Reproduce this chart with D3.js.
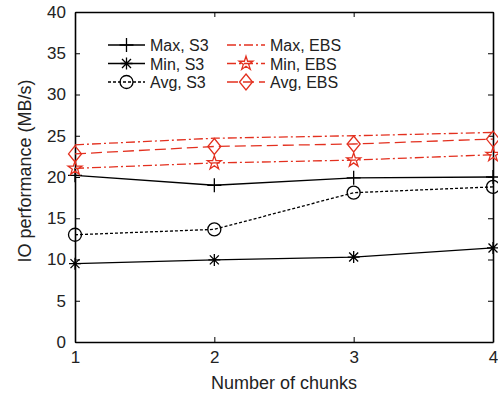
<!DOCTYPE html>
<html>
<head>
<meta charset="utf-8">
<script src="https://cdn.jsdelivr.net/npm/d3@7"></script>
<style>
  body { margin: 0; background: #fff; }
  svg { font-family: "Liberation Sans", Arial, Helvetica, sans-serif; }
</style>
</head>
<body>
<div id="chart"></div>
<script>
// chunk counts on the x axis
const chunks = [1, 2, 3, 4];
const yTicks = [0, 5, 10, 15, 20, 25, 30, 35, 40];

// IO performance (MB/s)
const maxS3 = [20.2, 19.0, 19.9, 20.0];
const minS3 = [9.5, 9.95, 10.3, 11.4];
const avgS3 = [13.0, 13.65, 18.1, 18.8];
const maxEBS = [23.9, 24.7, 25.0, 25.4];
const minEBS = [21.05, 21.7, 22.05, 22.7];
const avgEBS = [22.8, 23.7, 24.0, 24.6];

const red = "#e3301f";
const series = [
  { name: "Max, S3", values: maxS3, color: "#000", dash: null, marker: "plus" },
  { name: "Min, S3", values: minS3, color: "#000", dash: null, marker: "asterisk" },
  { name: "Avg, S3", values: avgS3, color: "#000", dash: "3,2", marker: "circle" },
  { name: "Max, EBS", values: maxEBS, color: red, dash: "9,3,2,3", marker: null },
  { name: "Min, EBS", values: minEBS, color: red, dash: "9,3,2,3", marker: "star" },
  { name: "Avg, EBS", values: avgEBS, color: red, dash: "11,5", marker: "diamond" }
];

const width = 498, height = 396;
const margin = { top: 12, right: 5, bottom: 54, left: 75 };
const innerW = width - margin.left - margin.right;
const innerH = height - margin.top - margin.bottom;

const svg = d3.select("#chart").append("svg")
  .attr("width", width).attr("height", height);
const g = svg.append("g").attr("transform", `translate(${margin.left},${margin.top})`);

const x = d3.scaleLinear().domain([1, 4]).range([0, innerW]);
const y = d3.scaleLinear().domain([0, 40]).range([innerH, 0]);

// axes with inward ticks on all four sides
const tickLen = 5;
const styleAxis = sel => {
  sel.select(".domain").attr("stroke", "#000").attr("stroke-width", 1.6).attr("fill", "none");
  sel.selectAll(".tick line").attr("stroke", "#000").attr("stroke-width", 1);
  sel.selectAll("text").attr("font-size", 17).attr("fill", "#222");
};

g.append("g").attr("transform", `translate(0,${innerH})`)
  .call(d3.axisBottom(x).tickValues(chunks).tickFormat(d3.format("d")).tickSizeInner(-tickLen).tickSizeOuter(0).tickPadding(9))
  .call(styleAxis);
g.append("g")
  .call(d3.axisTop(x).tickValues(chunks).tickFormat("").tickSizeInner(-tickLen).tickSizeOuter(0))
  .call(styleAxis);
g.append("g")
  .call(d3.axisLeft(y).tickValues(yTicks).tickSizeInner(-tickLen).tickSizeOuter(0).tickPadding(9))
  .call(styleAxis);
g.append("g").attr("transform", `translate(${innerW},0)`)
  .call(d3.axisRight(y).tickValues(yTicks).tickFormat("").tickSizeInner(-tickLen).tickSizeOuter(0))
  .call(styleAxis);

// axis titles
svg.append("text")
  .attr("x", margin.left + innerW / 2).attr("y", 389)
  .attr("text-anchor", "middle").attr("font-size", 18).attr("fill", "#222")
  .text("Number of chunks");
svg.append("text")
  .attr("transform", `translate(31,${margin.top + innerH / 2 - 6}) rotate(-90)`)
  .attr("text-anchor", "middle").attr("font-size", 18).attr("fill", "#222")
  .text("IO performance (MB/s)");

// marker drawing
const starPath = d3.symbol(d3.symbolStar, 60)();
function drawMarker(sel, type, color) {
  sel.each(function () {
    const m = d3.select(this);
    if (type === "plus") {
      m.append("path").attr("d", "M-7,0H7M0,-7V7")
        .attr("stroke", color).attr("stroke-width", 1.3).attr("fill", "none");
    } else if (type === "asterisk") {
      m.append("path").attr("d", "M-6,0H6M0,-6V6M-4.5,-4.5L4.5,4.5M-4.5,4.5L4.5,-4.5")
        .attr("stroke", color).attr("stroke-width", 1.3).attr("fill", "none");
    } else if (type === "circle") {
      m.append("circle").attr("r", 6.5)
        .attr("stroke", color).attr("stroke-width", 1.3).attr("fill", "none");
    } else if (type === "star") {
      m.append("path").attr("d", starPath)
        .attr("stroke", color).attr("stroke-width", 1.3).attr("fill", "none");
    } else if (type === "diamond") {
      m.append("path").attr("d", "M0,-8L6.5,0L0,8L-6.5,0Z")
        .attr("stroke", color).attr("stroke-width", 1.3).attr("fill", "none");
    }
  });
}

const line = d3.line().x((d, i) => x(chunks[i])).y(d => y(d));

series.forEach(s => {
  g.append("path").datum(s.values)
    .attr("d", line)
    .attr("fill", "none")
    .attr("stroke", s.color)
    .attr("stroke-width", 1.3)
    .attr("stroke-dasharray", s.dash);
  if (s.marker) {
    g.selectAll(null).data(s.values).enter().append("g")
      .attr("transform", (d, i) => `translate(${x(chunks[i])},${y(d)})`)
      .call(sel => drawMarker(sel, s.marker, s.color));
  }
});

// legend, two columns of three
const legendCols = [{ x0: 108, x1: 145, tx: 150 }, { x0: 227, x1: 265, tx: 270 }];
const rowY = [45, 63.5, 82];
series.forEach((s, i) => {
  const col = legendCols[Math.floor(i / 3)];
  const yy = rowY[i % 3];
  const lg = svg.append("g");
  lg.append("line")
    .attr("x1", col.x0).attr("x2", col.x1).attr("y1", yy).attr("y2", yy)
    .attr("stroke", s.color).attr("stroke-width", 1.3)
    .attr("stroke-dasharray", s.dash);
  if (s.marker) {
    lg.append("g").attr("transform", `translate(${(col.x0 + col.x1) / 2},${yy})`)
      .call(sel => drawMarker(sel, s.marker, s.color));
  }
  lg.append("text")
    .attr("x", col.tx).attr("y", yy + 6)
    .attr("font-size", 16).attr("fill", "#222")
    .text(s.name);
});
</script>
</body>
</html>
